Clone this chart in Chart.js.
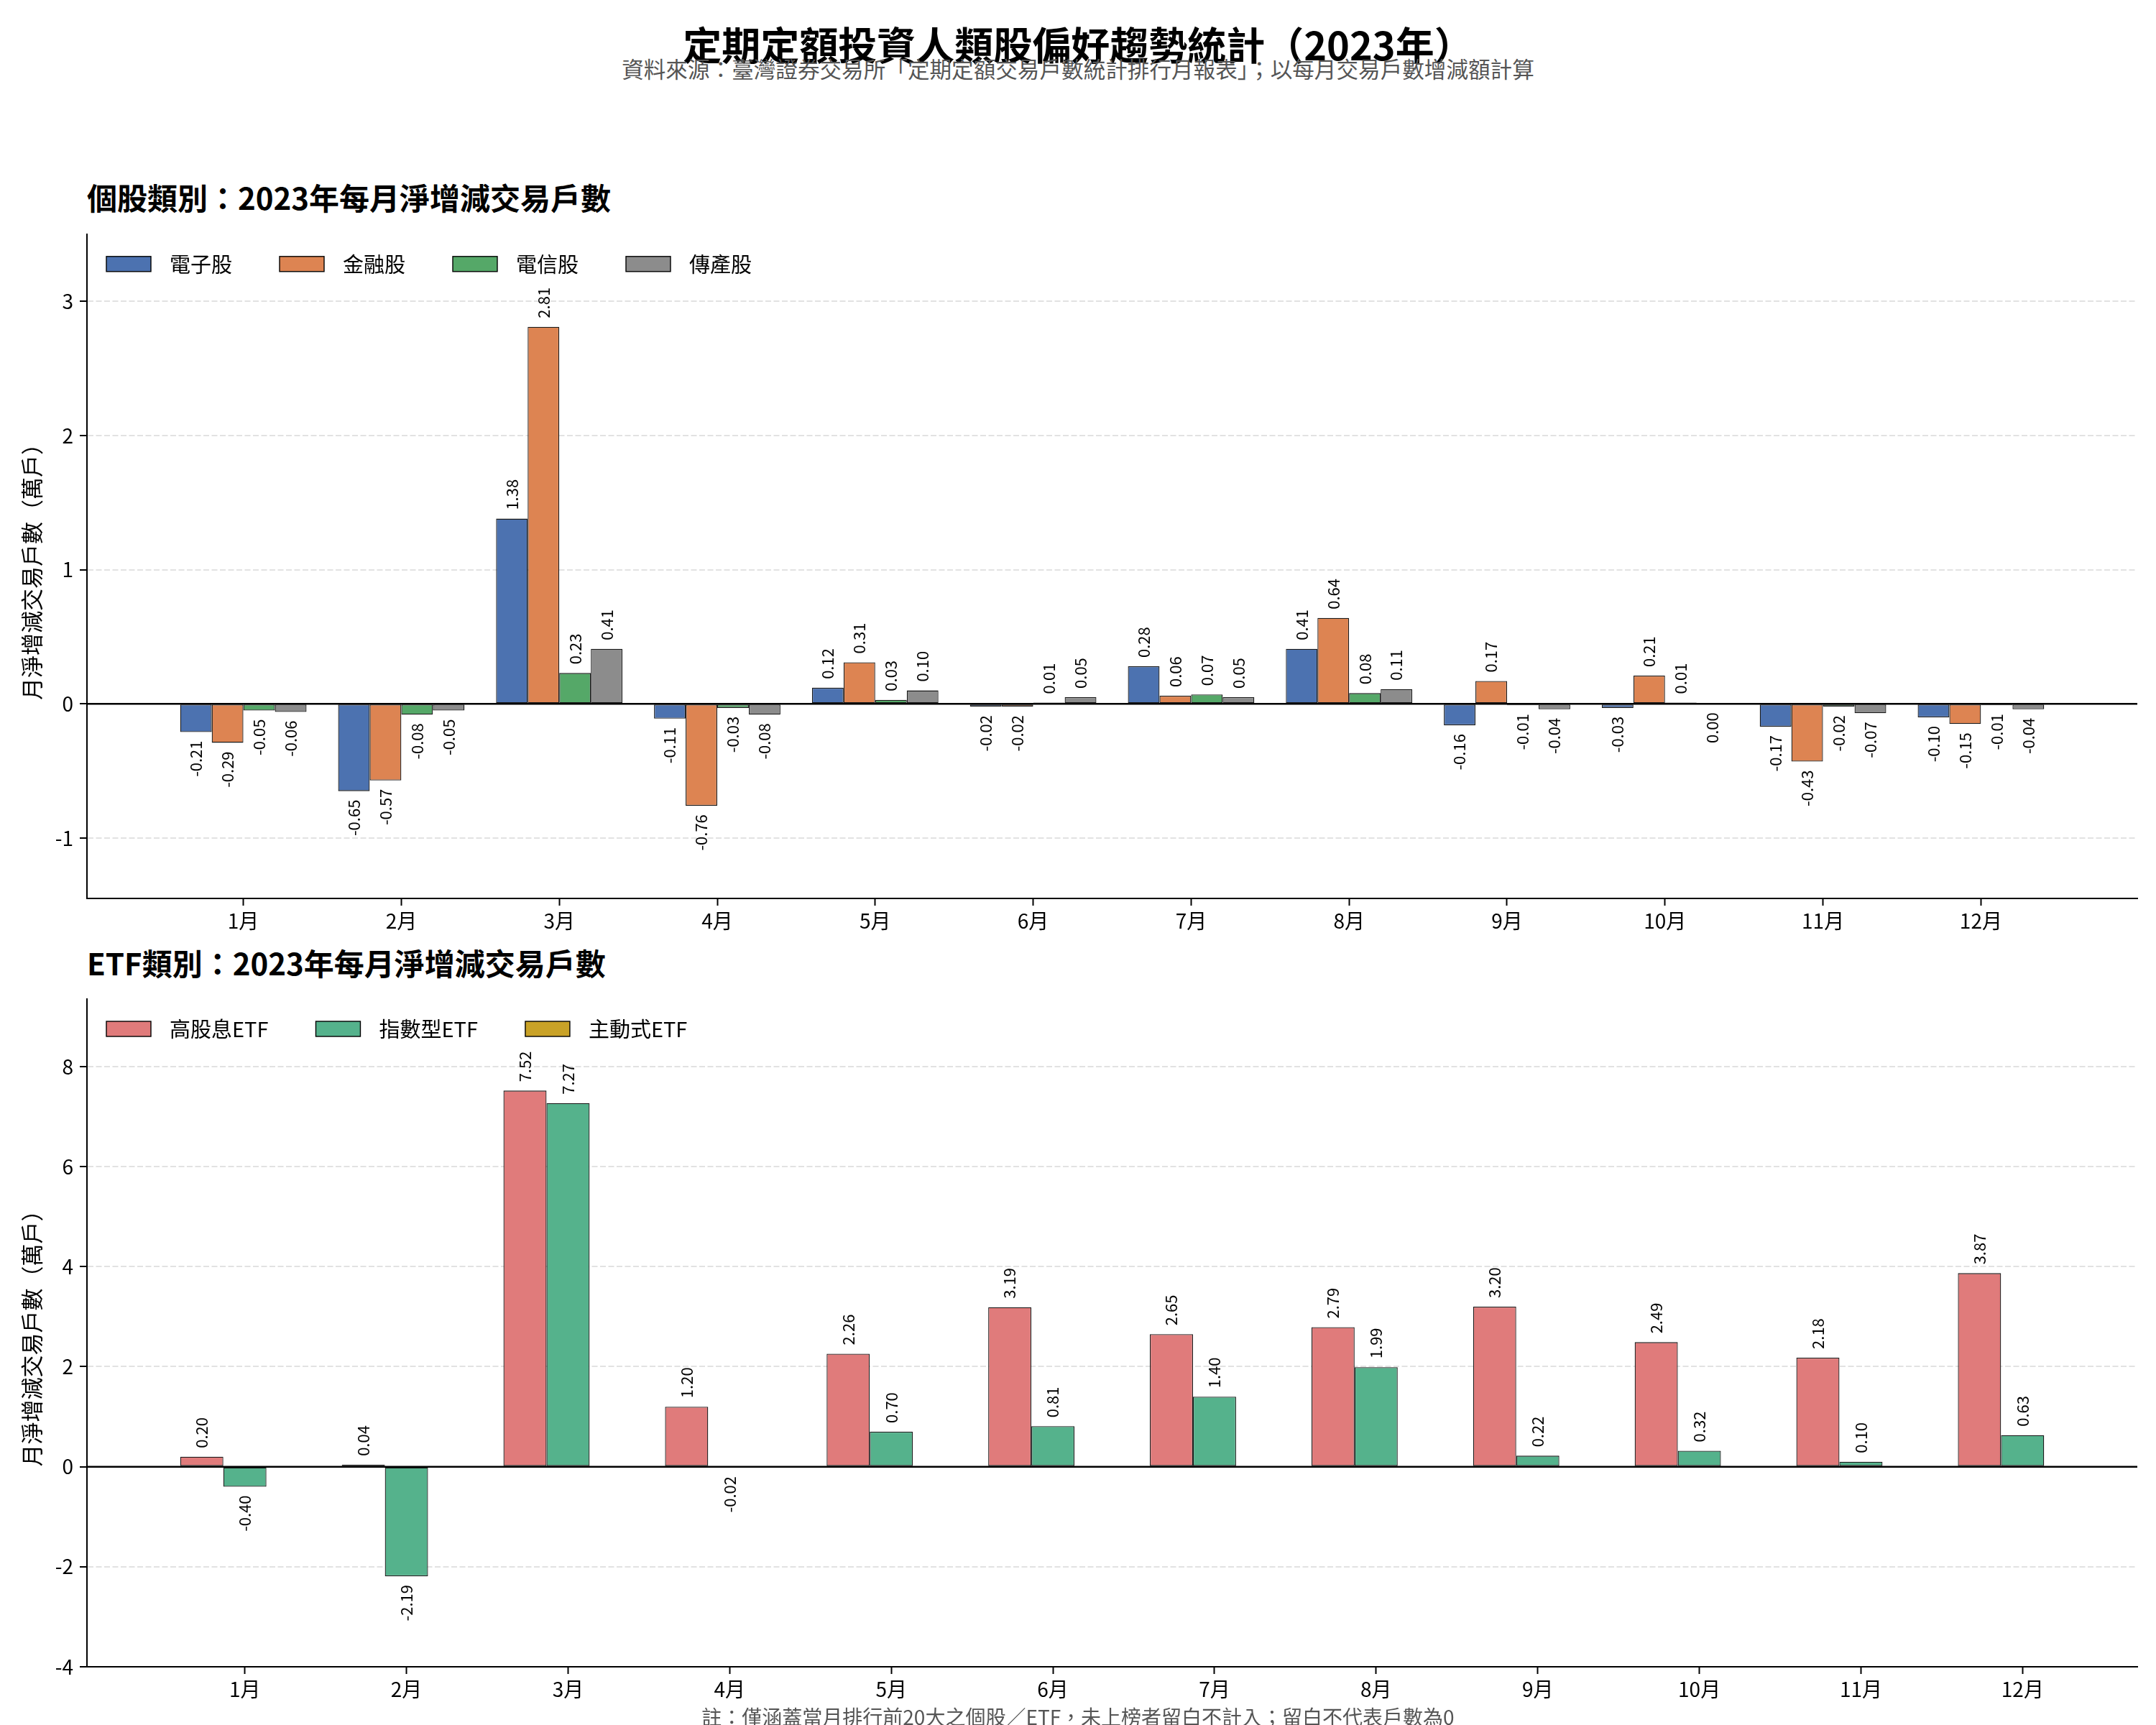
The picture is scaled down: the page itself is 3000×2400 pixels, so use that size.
<!DOCTYPE html>
<html lang="zh-Hant">
<head>
<meta charset="utf-8">
<title>定期定額投資人類股偏好趨勢統計（2023年）</title>
<script src="https://cdn.jsdelivr.net/npm/chart.js@4.4.1/dist/chart.umd.min.js"></script>
<style>
    html, body { margin: 0; padding: 0; background: #fff; }
    body {
        width: 3000px; height: 2400px; position: relative; overflow: hidden;
        font-family: "Noto Sans CJK TC", "Noto Sans", sans-serif; color: #000;
    }
    .txt { position: absolute; white-space: nowrap; line-height: 1; transform: translateY(-50%); }
    #mainTitle { left: 0; width: 3000px; text-align: center; top: 61px; font-size: 54px; font-weight: 700; }
    #subTitle { left: 0; width: 3000px; text-align: center; top: 95px; font-size: 30.6px; color: #555; }
    #stockTitle { left: 121px; top: 274px; font-size: 42px; font-weight: 700; }
    #etfTitle { left: 121px; top: 1339px; font-size: 42px; font-weight: 700; }
    #footNote { left: 0; width: 3000px; text-align: center; top: 2388px; font-size: 28px; color: #555; z-index: 2; }
    canvas { position: absolute; left: 0; }
    #stockChart { top: 300px; }
    #etfChart { top: 1330px; }
</style>
</head>
<body>

<div class="txt" id="mainTitle">定期定額投資人類股偏好趨勢統計（2023年）</div>
<div class="txt" id="subTitle">資料來源：臺灣證券交易所「定期定額交易戶數統計排行月報表」；以每月交易戶數增減額計算</div>
<div class="txt" id="stockTitle">個股類別：2023年每月淨增減交易戶數</div>
<div class="txt" id="etfTitle">ETF類別：2023年每月淨增減交易戶數</div>

<canvas id="stockChart" width="3000" height="1010"></canvas>
<canvas id="etfChart" width="3000" height="1049"></canvas>

<div class="txt" id="footNote">註：僅涵蓋當月排行前20大之個股／ETF，未上榜者留白不計入；留白不代表戶數為0</div>

<script>
"use strict";

/*==========================================================
    DATA  (單位：萬戶)
==========================================================*/

const months = ["1月", "2月", "3月", "4月", "5月", "6月", "7月", "8月", "9月", "10月", "11月", "12月"];

const stockLabels = ["電子股", "金融股", "電信股", "傳產股"];

const electronics = [-0.21, -0.65, 1.38, -0.11, 0.12, -0.02, 0.28, 0.41, -0.16, -0.03, -0.17, -0.10];
const financial   = [-0.29, -0.57, 2.81, -0.76, 0.31, -0.02, 0.06, 0.64, 0.17, 0.21, -0.43, -0.15];
const telecom     = [-0.05, -0.08, 0.23, -0.03, 0.03, 0.01, 0.07, 0.08, -0.01, 0.01, -0.02, -0.01];
const traditional = [-0.06, -0.05, 0.41, -0.08, 0.10, 0.05, 0.05, 0.11, -0.04, 0.00, -0.07, -0.04];

const etfLabels = ["高股息ETF", "指數型ETF", "主動式ETF"];

const highDividendEtf = [0.20, 0.04, 7.52, 1.20, 2.26, 3.19, 2.65, 2.79, 3.20, 2.49, 2.18, 3.87];
const indexEtf        = [-0.40, -2.19, 7.27, -0.02, 0.70, 0.81, 1.40, 1.99, 0.22, 0.32, 0.10, 0.63];
const activeEtf       = [null, null, null, null, null, null, null, null, null, null, null, null];

const stockTicks = [-1, 0, 1, 2, 3];
const etfTicks = [-4, -2, 0, 2, 4, 6, 8];

const yTitle = "月淨增減交易戶數（萬戶）";



/*==========================================================
    STYLE
==========================================================*/

const FONT = "'Noto Sans CJK TC', 'Noto Sans', sans-serif";

Chart.defaults.font.family = FONT;
Chart.defaults.color = "#000";

const stockColors = ["#4C72B0", "#DD8452", "#55A868", "#8C8C8C"];
const etfColors = ["#E07B7B", "#55B28C", "#C9A227"];



/*==========================================================
    PLUGINS
==========================================================*/

// solid black line at y = 0, drawn over the bars
const zeroLinePlugin = {

    id: "zeroLine",

    afterDatasetsDraw(chart) {

        const { ctx, chartArea, scales } = chart;
        const y = scales.y.getPixelForValue(0);

        ctx.save();
        ctx.strokeStyle = "#000";
        ctx.lineWidth = 2.5;
        ctx.beginPath();
        ctx.moveTo(chartArea.left, y);
        ctx.lineTo(chartArea.right, y);
        ctx.stroke();
        ctx.restore();

    }

};

// rotated value labels above / below each bar
const barLabelPlugin = {

    id: "barLabels",

    afterDatasetsDraw(chart) {

        const ctx = chart.ctx;

        ctx.save();
        ctx.font = "22px " + FONT;
        ctx.fillStyle = "#000";
        ctx.textBaseline = "middle";

        chart.data.datasets.forEach((ds, di) => {

            const meta = chart.getDatasetMeta(di);

            meta.data.forEach((bar, i) => {

                const v = ds.data[i].y;

                if (v === null || v === undefined) return;

                const up = v > 0;

                ctx.save();
                ctx.translate(bar.x, up ? bar.y - 12 : bar.y + 12);
                ctx.rotate(-Math.PI / 2);
                ctx.textAlign = up ? "left" : "right";
                ctx.fillText(v.toFixed(2), 0, 0);
                ctx.restore();

            });

        });

        ctx.restore();

    }

};

// legend drawn inside the plot, top-left, no frame
const insideLegendPlugin = {

    id: "insideLegend",

    afterDraw(chart) {

        const { ctx, chartArea } = chart;
        const top = chartArea.top + 31;
        let x = chartArea.left + 27;

        ctx.save();
        ctx.font = "29px " + FONT;
        ctx.textBaseline = "middle";
        ctx.textAlign = "left";

        chart.data.datasets.forEach((ds) => {

            ctx.fillStyle = ds.backgroundColor;
            ctx.fillRect(x, top, 62, 21);
            ctx.strokeStyle = "#000";
            ctx.lineWidth = 1.4;
            ctx.strokeRect(x, top, 62, 21);

            ctx.fillStyle = "#000";
            ctx.fillText(ds.label, x + 88, top + 11);

            x += 88 + ctx.measureText(ds.label).width + 66;

        });

        ctx.restore();

    }

};



/*==========================================================
    BUILDERS
==========================================================*/

function toPoints(values) {

    return values.map((v, i) => ({ x: i, y: v }));

}

function makeDatasets(labels, seriesList, colors) {

    return seriesList.map((values, k) => ({
        label: labels[k],
        data: toPoints(values),
        backgroundColor: colors[k],
        borderColor: "#1a1a1a",
        borderWidth: 1.3,
        borderSkipped: false,
        categoryPercentage: 0.8,
        barPercentage: 1.0
    }));

}

function xAxis(min, max) {

    return {
        type: "linear",
        min: min,
        max: max,
        offset: false,
        afterFit(scale) { scale.height = 60; },
        afterBuildTicks(scale) { scale.ticks = months.map((_, i) => ({ value: i })); },
        ticks: {
            font: { size: 28 },
            color: "#000",
            padding: 5,
            maxRotation: 0,
            autoSkip: false,
            callback: (v) => months[v]
        },
        grid: {
            display: true,
            offset: false,
            drawOnChartArea: false,
            drawTicks: true,
            tickLength: 10,
            tickWidth: 2,
            tickColor: "#000"
        },
        border: { display: true, color: "#000", width: 2 }
    };

}

function yAxis(min, max, tickValues) {

    return {
        type: "linear",
        min: min,
        max: max,
        afterFit(scale) { scale.width = 121; },
        afterBuildTicks(scale) { scale.ticks = tickValues.map((v) => ({ value: v })); },
        ticks: {
            font: { size: 28 },
            color: "#000",
            padding: 9,
            callback: (v) => String(v)
        },
        grid: {
            color: "#e2e2e2",
            lineWidth: 2,
            tickLength: 10,
            tickWidth: 2,
            tickColor: "#000"
        },
        border: { display: true, color: "#000", width: 2, dash: [8, 3.5] },
        title: {
            display: true,
            text: yTitle,
            font: { size: 31 },
            color: "#000",
            padding: { top: 26, bottom: 0 }
        }
    };

}

function makeChart(canvasId, datasets, xRange, yRange, tickValues, padTop) {

    return new Chart(document.getElementById(canvasId), {

        type: "bar",

        data: { datasets: datasets },

        options: {
            responsive: false,
            animation: false,
            layout: { padding: { top: padTop, right: 26, bottom: 0, left: 0 } },
            scales: {
                x: xAxis(xRange[0], xRange[1]),
                y: yAxis(yRange[0], yRange[1], tickValues)
            },
            plugins: {
                legend: { display: false },
                tooltip: { enabled: false }
            }
        },

        plugins: [zeroLinePlugin, barLabelPlugin, insideLegendPlugin]

    });

}



/*==========================================================
    CHARTS
==========================================================*/

makeChart(
    "stockChart",
    makeDatasets(stockLabels, [electronics, financial, telecom, traditional], stockColors),
    [-0.99, 11.99],
    [-1.45, 3.5],
    stockTicks,
    20
);

makeChart(
    "etfChart",
    makeDatasets(etfLabels, [highDividendEtf, indexEtf, activeEtf], etfColors),
    [-0.977, 11.71],
    [-4, 9.35],
    etfTicks,
    60
);
</script>
</body>
</html>
